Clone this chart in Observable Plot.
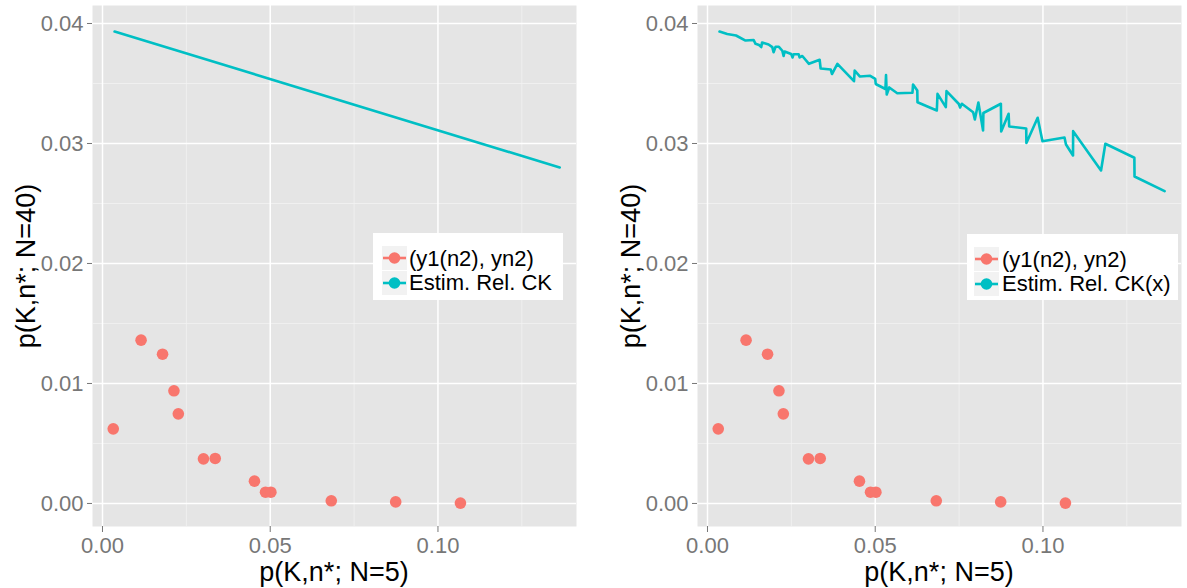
<!DOCTYPE html>
<html><head><meta charset="utf-8">
<script src="https://cdn.jsdelivr.net/npm/d3@7"></script>
<script src="https://cdn.jsdelivr.net/npm/@observablehq/plot@0.6"></script>
<style>
body{margin:0;background:#fff;font-family:"Liberation Sans",Arial,sans-serif;}
#wrap{position:relative;width:1187px;height:588px;overflow:hidden;background:#fff}
.panel{position:absolute;top:0}
.ytitle{position:absolute;font-size:27px;color:#000;white-space:nowrap;line-height:1;transform:translate(-50%,-50%) rotate(-90deg);}
.xtitle{position:absolute;font-size:27px;color:#000;white-space:nowrap;line-height:1;transform:translate(-50%,-50%);}
.legend{position:absolute;background:#fff;}
.key{position:absolute;width:25px;height:24px;background:#f2f2f2;}
.ltext{position:absolute;font-size:22px;color:#000;white-space:nowrap;line-height:24px;}
</style>
</head><body>
<div id="wrap"></div>
<script>
// ---- data ----
const pointsX = [0.0032, 0.0115, 0.0179, 0.0213, 0.0226, 0.0301, 0.0336, 0.0453, 0.0486, 0.0502, 0.0682, 0.0874, 0.1067];
const pointsY = [0.00622, 0.01361, 0.01244, 0.00939, 0.00747, 0.00372, 0.00375, 0.00186, 0.00094, 0.00094, 0.00022, 0.00013, 0.00003];

const lineLeftX = [0.0036, 0.1363];
const lineLeftY = [0.03933, 0.0280];

const lineRightX = [0.00358, 0.00588, 0.00851, 0.01134, 0.01373, 0.01433, 0.01537, 0.01603, 0.01627, 0.01821,
  0.01931, 0.01970, 0.02030, 0.02128, 0.02230, 0.02269, 0.02299, 0.02493, 0.02537, 0.02567,
  0.02716, 0.02746, 0.02827, 0.03024, 0.03343, 0.03373, 0.03672, 0.03710, 0.03872, 0.04367,
  0.04388, 0.04546, 0.04851, 0.05000, 0.05015, 0.05304, 0.05322, 0.05343, 0.05418, 0.05657,
  0.06110, 0.06128, 0.06254, 0.06260, 0.06836, 0.06857, 0.07104, 0.07125, 0.07493, 0.07531,
  0.07582, 0.07919, 0.07970, 0.08075, 0.08215, 0.08224, 0.08746, 0.08755, 0.08976, 0.08994,
  0.09501, 0.09507, 0.09842, 0.09985, 0.10642, 0.10687, 0.10896, 0.10900, 0.11731, 0.11860,
  0.12725, 0.12730, 0.13627];
const lineRightY = [0.03933, 0.03913, 0.03900, 0.03858, 0.03863, 0.03831, 0.03821, 0.03804, 0.03842, 0.03825,
  0.03803, 0.03761, 0.03806, 0.03806, 0.03773, 0.03729, 0.03767, 0.03746, 0.03717, 0.03744,
  0.03744, 0.03717, 0.03729, 0.03664, 0.03698, 0.03625, 0.03617, 0.03579, 0.03664, 0.03519,
  0.03608, 0.03558, 0.03564, 0.03539, 0.03496, 0.03454, 0.03571, 0.03408, 0.03467, 0.03419,
  0.03423, 0.03492, 0.03442, 0.03344, 0.03275, 0.03414, 0.03303, 0.03436, 0.03329, 0.03300,
  0.03331, 0.03261, 0.03200, 0.03342, 0.03108, 0.03254, 0.03331, 0.03100, 0.03248, 0.03142,
  0.03125, 0.03004, 0.03214, 0.03019, 0.03050, 0.02992, 0.02900, 0.03103, 0.02775, 0.02998,
  0.02881, 0.02725, 0.02603];

const xTicks = [0, 0.05, 0.10];
const xMinor = [0.025, 0.075, 0.125];
const yTicks = [0, 0.01, 0.02, 0.03, 0.04];
const yMinor = [0.005, 0.015, 0.025, 0.035];

const xTitle = "p(K,n*; N=5)";
const yTitle = "p(K,n*; N=40)";
const legendLeft = ["(y1(n2), yn2)", "Estim. Rel. CK"];
const legendRight = ["(y1(n2), yn2)", "Estim. Rel. CK(x)"];
const colors = ["#F8766D", "#00BFC4"];

// ---- layout ----
const xDomain = [-0.00298, 0.1413];
const yDomain = [-0.00192, 0.0415];
const wrap = document.getElementById("wrap");

function makePanel(lineX, lineY, width, marginLeft, marginRight) {
  const pts = pointsX.map((x, i) => ({x, y: pointsY[i]}));
  const ln = lineX.map((x, i) => ({x, y: lineY[i]}));
  return Plot.plot({
    width, height: 588,
    marginLeft, marginRight, marginTop: 5, marginBottom: 62,
    x: {domain: xDomain},
    y: {domain: yDomain},
    style: {fontFamily: "Liberation Sans, Arial, sans-serif", background: "transparent", color: "#777777", overflow: "visible"},
    marks: [
      Plot.frame({fill: "#e5e5e5", stroke: "none"}),
      Plot.gridX(xMinor, {stroke: "#f2f2f2", strokeOpacity: 1, strokeWidth: 0.8}),
      Plot.gridY(yMinor, {stroke: "#f2f2f2", strokeOpacity: 1, strokeWidth: 0.8}),
      Plot.gridX(xTicks, {stroke: "#ffffff", strokeOpacity: 1, strokeWidth: 1.5}),
      Plot.gridY(yTicks, {stroke: "#ffffff", strokeOpacity: 1, strokeWidth: 1.5}),
      Plot.axisX(xTicks, {tickSize: 6, tickPadding: 5, fontSize: 22, tickFormat: d3.format(".2f"), label: null, color: "#777777"}),
      Plot.axisY(yTicks, {tickSize: 5, tickPadding: 4, fontSize: 22, tickFormat: d3.format(".2f"), label: null, color: "#777777"}),
      Plot.line(ln, {x: "x", y: "y", stroke: colors[1], strokeWidth: 2.6}),
      Plot.dot(pts, {x: "x", y: "y", r: 5.8, fill: colors[0], stroke: "none"})
    ]
  });
}

function addPanel(left, lineX, lineY, width, mL, mR, labels, legendBox) {
  const p = makePanel(lineX, lineY, width, mL, mR);
  p.classList.add("panel");
  p.style.left = left + "px";
  wrap.appendChild(p);
  const panelLeft = left + mL, panelRight = left + width - mR;
  const xt = document.createElement("div");
  xt.className = "xtitle"; xt.textContent = xTitle;
  xt.style.left = ((panelLeft + panelRight) / 2) + "px"; xt.style.top = "572px";
  wrap.appendChild(xt);
  const yt = document.createElement("div");
  yt.className = "ytitle"; yt.textContent = yTitle;
  yt.style.left = (panelLeft - 66) + "px"; yt.style.top = "266px";
  wrap.appendChild(yt);
  // legend
  const lg = document.createElement("div");
  lg.className = "legend";
  Object.assign(lg.style, {left: legendBox.x + "px", top: legendBox.y + "px", width: legendBox.w + "px", height: legendBox.h + "px"});
  labels.forEach((lab, i) => {
    const top = legendBox.kt + i * 24.5;
    const k = document.createElement("div");
    k.className = "key";
    k.style.left = legendBox.kx + "px"; k.style.top = top + "px";
    k.innerHTML = `<svg width="25" height="24"><line x1="1" x2="24" y1="12" y2="12" stroke="${colors[i]}" stroke-width="2.6"/><circle cx="12.5" cy="12" r="5.8" fill="${colors[i]}"/></svg>`;
    lg.appendChild(k);
    const t = document.createElement("div");
    t.className = "ltext"; t.textContent = lab;
    t.style.left = legendBox.tx + "px"; t.style.top = (top + 0.5) + "px";
    lg.appendChild(t);
  });
  wrap.appendChild(lg);
}

addPanel(0, lineLeftX, lineLeftY, 597, 92, 21, legendLeft, {x: 373, y: 233, w: 190, h: 67, kx: 9, kt: 13, tx: 36});
addPanel(597, lineRightX, lineRightY, 590, 100, 6, legendRight, {x: 967, y: 234, w: 211, h: 66, kx: 7, kt: 13, tx: 35});
</script>
</body></html>
